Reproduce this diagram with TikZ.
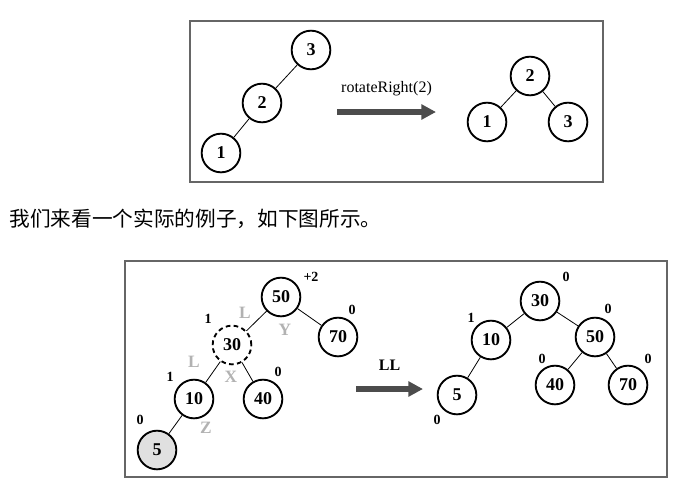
\documentclass[tikz,border=0pt]{standalone}
\usepackage{fontspec}
\setmainfont{Liberation Serif}
\newfontfamily\cjk{Noto Sans CJK SC}
\usetikzlibrary{arrows.meta}

\begin{document}
\begin{tikzpicture}[x=0.75pt, y=-0.75pt, line width=0.6pt,
        every circle node/.append style={draw, line width=1.4pt, minimum size=29pt, inner sep=0pt}]
      \tikzstyle{frame} = [draw=black!60, line width=1.1pt]
      \tikzstyle{key} = [font=\bfseries\fontsize{13.5}{13.5}\selectfont]
      \tikzstyle{small} = [font=\bfseries\fontsize{10.5}{10.5}\selectfont, inner sep=0pt]
      \tikzstyle{side} = [font=\bfseries\fontsize{13}{13}\selectfont, text=black!30, inner sep=0pt]
      \tikzstyle{turn} = [line width=3.8pt, draw=black!70, -{Triangle[length=11pt, width=11pt]}]
      \useasboundingbox (0,0) rectangle (682,486);
      % rotateRight(2)
      \draw[frame] (190,21) rectangle (603,182);
      \node (a3) [circle,key] at (311,50) {3};
      \node (a2) [circle,key] at (262,103) {2};
      \node (a1) [circle,key] at (221,153) {1};
      \draw (a3) -- (a2) -- (a1);
      \coordinate (s1) at (337,112);
      \coordinate (e1) at (436,112);
      \draw[turn] (s1) -- (e1) node [midway, above=7pt, font=\fontsize{12}{12}\selectfont] {rotateRight(2)};
      \node (b2) [circle,key] at (530,76) {2};
      \node (b1) [circle,key] at (487,122) {1};
      \node (b3) [circle,key] at (568,122) {3};
      \draw (b2) -- (b1);
      \draw (b2) -- (b3);
      % text
      \node (txt) [anchor=west, inner sep=0pt, font=\cjk\fontsize{15.5}{15.5}\selectfont] at (9,219) {我们来看一个实际的例子，如下图所示。};
      % LL
      \draw[frame] (125,261) rectangle (667,477);
      \node (u50) [circle,key] at (281,297) {50};
      \node (u70) [circle,key] at (338,337) {70};
      \node (u30) [circle,key,dash pattern=on 3.5pt off 2.5pt,line width=0.8pt] at (232,345) {30};
      \node (u10) [circle,key] at (194,399) {10};
      \node (u40) [circle,key] at (263,399) {40};
      \node (u5) [circle,key,fill=black!12] at (157,450) {5};
      \draw (u50) -- (u30);
      \draw (u50) -- (u70);
      \draw (u30) -- (u10);
      \draw (u30) -- (u40);
      \draw (u10) -- (u5);
      \node [small] at (311,277) {+2};
      \node [small] at (352,310) {0};
      \node [small] at (208,319) {1};
      \node [small] at (170,377) {1};
      \node [small] at (278,372) {0};
      \node [small] at (140,420) {0};
      \node [side] at (245,313) {L};
      \node [side] at (285,330) {Y};
      \node [side] at (194,362) {L};
      \node [side] at (231,377) {X};
      \node [side] at (206,428) {Z};
      \coordinate (s2) at (356,389);
      \coordinate (e2) at (423,389);
      \draw[turn] (s2) -- (e2) node [midway, above=9pt, font=\bfseries\fontsize{12}{12}\selectfont] {LL};
      \node (v30) [circle,key] at (540,301) {30};
      \node (v10) [circle,key] at (491,340) {10};
      \node (v50) [circle,key] at (595,337) {50};
      \node (v5) [circle,key] at (457,395) {5};
      \node (v40) [circle,key] at (555,385) {40};
      \node (v70) [circle,key] at (628,385) {70};
      \draw (v30) -- (v10);
      \draw (v30) -- (v50);
      \draw (v10) -- (v5);
      \draw (v50) -- (v40);
      \draw (v50) -- (v70);
      \node [small] at (566,277) {0};
      \node [small] at (471,318) {1};
      \node [small] at (608,309) {0};
      \node [small] at (542,359) {0};
      \node [small] at (648,359) {0};
      \node [small] at (437,420) {0};
    \end{tikzpicture}
\end{document}
